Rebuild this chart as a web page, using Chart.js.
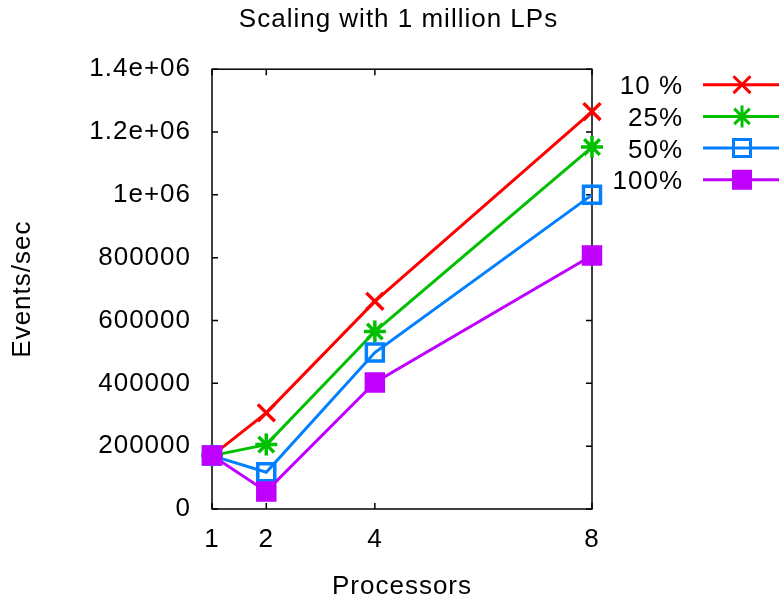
<!DOCTYPE html>
<html>
<head>
<meta charset="utf-8">
<script src="https://cdn.jsdelivr.net/npm/chart.js@4.4.0/dist/chart.umd.min.js"></script>
<style>
  body { margin: 0; background: #fff; }
  #wrap { width: 779px; height: 603px; }
</style>
</head>
<body>
<div id="wrap"><canvas id="myChart" width="779" height="603"></canvas></div>
<script>
// data
var processors = [1, 2, 4, 8];
var xTicks = [1, 2, 4, 8];
var yTicks = [0, 200000, 400000, 600000, 800000, 1000000, 1200000, 1400000];
var yTickLabels = ["0", "200000", "400000", "600000", "800000", "1e+06", "1.2e+06", "1.4e+06"];

var seriesNames = ["10 %", "25%", "50%", "100%"];
var events10 = [170000, 306000, 661000, 1265000];
var events25 = [170000, 205000, 565000, 1152000];
var events50 = [170000, 117000, 498000, 1000000];
var events100 = [170000, 56000, 403000, 807000];

var colors = ["#ff0000", "#00c000", "#0080ff", "#c000ff"];
var fills = ["rgba(0,0,0,0)", "rgba(0,0,0,0)", "rgba(0,0,0,0)", "#c000ff"];
var styles = ["crossRot", "star", "rect", "rect"];
var radii = [12, 11, 12, 12];

var fontFamily = '"Liberation Sans", Arial, sans-serif';
var font = { family: fontFamily, size: 26, weight: 'normal' };

function pairs(vals) {
  var out = [];
  for (var i = 0; i < processors.length; i++) {
    out.push({ x: processors[i], y: vals[i] });
  }
  return out;
}

var allSeries = [events10, events25, events50, events100];
var datasets = [];
for (var i = 0; i < allSeries.length; i++) {
  datasets.push({
    label: seriesNames[i],
    data: pairs(allSeries[i]),
    borderColor: colors[i],
    backgroundColor: colors[i],
    borderWidth: 3,
    pointStyle: styles[i],
    pointRadius: radii[i],
    pointBorderWidth: 3.5,
    pointBorderColor: colors[i],
    pointBackgroundColor: fills[i],
    fill: false,
    tension: 0,
    clip: false,
    yAxisID: 'y',
    order: allSeries.length - 1 - i
  });
}

// gnuplot-ish spacing of the glyphs
var spacing = {
  id: 'spacing',
  beforeDraw: function(chart) {
    chart.ctx.letterSpacing = '1px';
  }
};

// box around the plot with inward ticks on all four sides
var frame = {
  id: 'frame',
  beforeDatasetsDraw: function(chart) {
    var ctx = chart.ctx, a = chart.chartArea;
    var xs = chart.scales.x, ys = chart.scales.y;
    ctx.save();
    ctx.strokeStyle = '#000';
    ctx.lineWidth = 1.5;
    ctx.strokeRect(a.left, a.top, a.right - a.left, a.bottom - a.top);
    ctx.beginPath();
    xs.ticks.forEach(function(t) {
      var px = xs.getPixelForValue(t.value);
      ctx.moveTo(px, a.bottom); ctx.lineTo(px, a.bottom - 6);
      ctx.moveTo(px, a.top); ctx.lineTo(px, a.top + 6);
    });
    ys.ticks.forEach(function(t) {
      var py = ys.getPixelForValue(t.value);
      ctx.moveTo(a.left, py); ctx.lineTo(a.left + 6, py);
      ctx.moveTo(a.right, py); ctx.lineTo(a.right - 6, py);
    });
    ctx.stroke();
    ctx.restore();
  }
};

// key on the right: text, then line sample with marker
var keyBox = {
  id: 'keyBox',
  afterDraw: function(chart) {
    var ctx = chart.ctx, a = chart.chartArea;
    chart.data.datasets.forEach(function(ds, i) {
      var y = a.top + 15.5 + i * 31.7;
      ctx.save();
      ctx.font = '26px ' + fontFamily;
      ctx.letterSpacing = '1px';
      ctx.fillStyle = '#000';
      ctx.textAlign = 'right';
      ctx.textBaseline = 'alphabetic';
      ctx.fillText(ds.label, a.right + 91, y + 9.5);
      ctx.strokeStyle = ds.borderColor;
      ctx.lineWidth = 3;
      ctx.beginPath();
      ctx.moveTo(a.right + 111, y);
      ctx.lineTo(chart.width + 5, y);
      ctx.stroke();
      ctx.fillStyle = ds.pointBackgroundColor;
      Chart.helpers.drawPoint(ctx, {
        pointStyle: ds.pointStyle,
        radius: ds.pointRadius,
        borderWidth: ds.pointBorderWidth,
        rotation: 0
      }, a.right + 150, y);
      ctx.restore();
    });
  }
};

var ctx = document.getElementById("myChart").getContext('2d');

var mychart = new Chart(ctx, {
  type: 'line',
  data: { datasets: datasets },
  plugins: [spacing, frame, keyBox],
  options: {
    responsive: false,
    animation: false,
    layout: { padding: { left: 18, right: 0, top: 0, bottom: 0 } },
    plugins: {
      legend: { display: false },
      tooltip: { enabled: false },
      title: {
        display: true,
        text: 'Scaling with 1 million LPs',
        color: '#000',
        font: font,
        padding: { top: 4, bottom: 34 }
      }
    },
    scales: {
      x: {
        type: 'linear',
        min: 1,
        max: 8,
        grid: { display: false, drawTicks: false },
        border: { display: false },
        ticks: { color: '#000', font: font, padding: 15, autoSkip: false, maxRotation: 0 },
        afterBuildTicks: function(s) {
          s.ticks = xTicks.map(function(v) { return { value: v }; });
        },
        afterFit: function(s) { s.height = 94; },
        title: { display: true, text: 'Processors', color: '#000', font: font, padding: { top: 0, bottom: 1 } }
      },
      y: {
        type: 'linear',
        min: 0,
        max: 1400000,
        grid: { display: false, drawTicks: false },
        border: { display: false },
        ticks: {
          color: '#000',
          font: font,
          padding: 21,
          callback: function(v) {
            var k = yTicks.indexOf(v);
            return k >= 0 ? yTickLabels[k] : '';
          }
        },
        afterBuildTicks: function(s) {
          s.ticks = yTicks.map(function(v) { return { value: v }; });
        },
        afterFit: function(s) { s.width = 194; },
        title: { display: true, text: 'Events/sec', color: '#000', font: font, padding: { top: -11, bottom: 0 } }
      },
      // empty right axis that only reserves room for the key
      keySpace: {
        type: 'linear',
        position: 'right',
        min: 0,
        max: 1400000,
        grid: { display: false, drawTicks: false },
        border: { display: false },
        ticks: { display: false },
        afterFit: function(s) { s.width = 187; }
      }
    }
  }
});
</script>
</body>
</html>
